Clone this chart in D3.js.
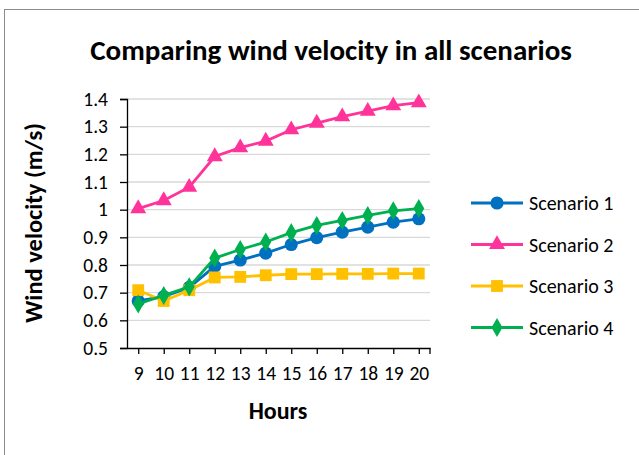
<!DOCTYPE html>
<html>
<head>
<meta charset="utf-8">
<script src="https://cdn.jsdelivr.net/npm/d3@7"></script>
<style>
  body { margin: 0; background: #fff; }
  svg text { font-family: Carlito, Calibri, Lato, sans-serif; fill: #000; }
</style>
</head>
<body>
<svg id="chart" width="639" height="455"></svg>
<script>
// chart data
var hours = [9, 10, 11, 12, 13, 14, 15, 16, 17, 18, 19, 20]
var scenario1 = [0.670, 0.686, 0.719, 0.795, 0.818, 0.843, 0.874, 0.899, 0.919, 0.937, 0.955, 0.967]
var scenario2 = [1.004, 1.033, 1.081, 1.192, 1.224, 1.248, 1.289, 1.313, 1.336, 1.356, 1.376, 1.387]
var scenario3 = [0.709, 0.670, 0.709, 0.755, 0.757, 0.763, 0.767, 0.767, 0.768, 0.768, 0.769, 0.769]
var scenario4 = [0.659, 0.690, 0.721, 0.825, 0.856, 0.883, 0.917, 0.943, 0.961, 0.979, 0.996, 1.004]
var yTicks = [0.5, 0.6, 0.7, 0.8, 0.9, 1, 1.1, 1.2, 1.3, 1.4]

var series = [
  {name: "Scenario 1", values: scenario1, color: "#0070C0", symbol: d3.symbolCircle, size: 135},
  {name: "Scenario 2", values: scenario2, color: "#FF3399", symbol: d3.symbolTriangle, size: 110},
  {name: "Scenario 3", values: scenario3, color: "#FFC000", symbol: d3.symbolSquare, size: 140},
  {name: "Scenario 4", values: scenario4, color: "#00B050", symbol: d3.symbolDiamond, size: 105}
]

var svg = d3.select("#chart")

// outer chart frame
svg.append("rect")
  .attr("x", 4.5).attr("y", 9.5)
  .attr("width", 650).attr("height", 460)
  .attr("fill", "none").attr("stroke", "#8c8c8c").attr("stroke-width", 1)

var plotLeft = 127, plotTop = 99, w = 303, h = 249
var g = svg.append("g").attr("transform", "translate(" + plotLeft + "," + plotTop + ")")

var x = d3.scalePoint().domain(hours).range([0, w]).padding(0.44)
var y = d3.scaleLinear().domain([0.5, 1.4]).range([h, 0])

/* gridlines */
g.selectAll(".grid").data(yTicks.slice(1)).enter()
  .append("line")
    .attr("x1", 0).attr("x2", w)
    .attr("y1", d => y(d)).attr("y2", d => y(d))
    .attr("stroke", "#d9d9d9").attr("stroke-width", 1.3)

/* axes */
var yAxis = g.append("g")
  .call(d3.axisLeft(y).tickValues(yTicks).tickSize(7).tickPadding(12).tickFormat(d => d3.format("")(d)))
yAxis.select(".domain").attr("stroke", "#000").attr("stroke-width", 1.3)
yAxis.selectAll("line").attr("stroke", "#000").attr("stroke-width", 1.3)
yAxis.selectAll("text").style("font-size", "19.5px").attr("fill", "#000")

var xAxis = g.append("g").attr("transform", "translate(0," + h + ")")
  .call(d3.axisBottom(x).tickSizeInner(6).tickSizeOuter(0).tickPadding(12))
xAxis.select(".domain").attr("stroke", "#000").attr("stroke-width", 1.3)
xAxis.selectAll("line").attr("stroke", "#000").attr("stroke-width", 1.3)
xAxis.selectAll("text").style("font-size", "19.5px").attr("fill", "#000")
xAxis.append("line") // end tick at the right edge
  .attr("x1", w).attr("x2", w).attr("y1", 0).attr("y2", 6)
  .attr("stroke", "#000").attr("stroke-width", 1.3)

/* lines and markers */
var line = d3.line().x((d, i) => x(hours[i])).y(d => y(d))

series.forEach(function(s){
  g.append("path")
    .datum(s.values)
    .attr("fill", "none")
    .attr("stroke", s.color)
    .attr("stroke-width", 2.8)
    .attr("d", line)
  g.selectAll(".m").data(s.values).enter()
    .append("path")
      .attr("transform", (d, i) => "translate(" + x(hours[i]) + "," + y(d) + ")")
      .attr("d", d3.symbol().type(s.symbol).size(s.size))
      .attr("fill", s.color)
})

/* legend */
var legend = svg.append("g").attr("transform", "translate(471,203)")
series.forEach(function(s, i){
  var row = legend.append("g").attr("transform", "translate(0," + (i * 41.5) + ")")
  row.append("line").attr("x1", 0).attr("x2", 52)
    .attr("stroke", s.color).attr("stroke-width", 2.8)
  row.append("path")
    .attr("transform", "translate(26,0)")
    .attr("d", d3.symbol().type(s.symbol).size(s.size))
    .attr("fill", s.color)
  row.append("text").attr("x", 58).attr("y", 0).attr("dy", "0.35em")
    .style("font-size", "20px").text(s.name)
})

/* titles */
svg.append("text")
  .attr("x", 331).attr("y", 60)
  .attr("text-anchor", "middle")
  .style("font-size", "29px").style("font-weight", "bold")
  .text("Comparing wind velocity in all scenarios")

svg.append("text")
  .attr("x", 278).attr("y", 419)
  .attr("text-anchor", "middle")
  .style("font-size", "24px").style("font-weight", "bold")
  .text("Hours")

svg.append("text")
  .attr("transform", "translate(42,223) rotate(-90)")
  .attr("text-anchor", "middle")
  .style("font-size", "24.5px").style("font-weight", "bold")
  .text("Wind velocity (m/s)")
</script>
</body>
</html>
